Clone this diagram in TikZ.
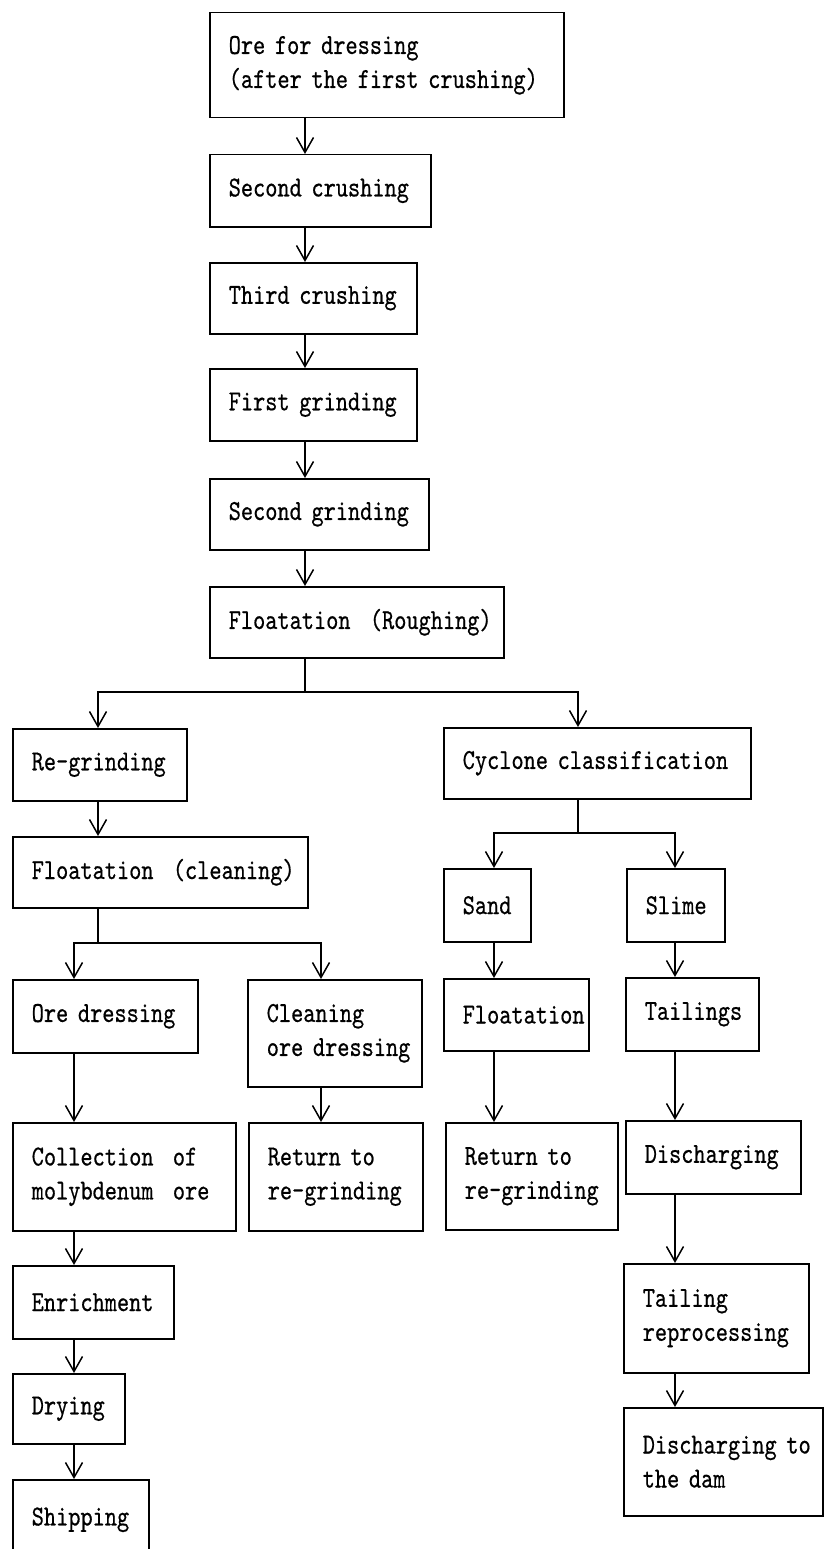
\documentclass[tikz,border=0pt]{standalone}
\usepackage{fontspec}
\usetikzlibrary{arrows.meta}
% condensed typewriter face for the box labels
\newfontfamily\boxfont{lmmono10-regular.otf}[FakeStretch=0.80,FakeBold=0.5]
\newcommand\boxstyle{\boxfont\fontsize{29pt}{34pt}\selectfont\hyphenpenalty10000\relax\exhyphenpenalty10000\relax}
\begin{document}
\begin{tikzpicture}[x=1pt,y=-1pt,
  fbox/.style={draw, line width=1.5pt, anchor=north west, inner xsep=19pt, inner ysep=0pt,
    align=left, font=\boxstyle},
  link/.style={draw, line width=1.5pt},
  arr/.style={link, -{Straight Barb[length=15pt,width=17pt]}}]
\useasboundingbox (0,0) rectangle (824,1549);
\fill[white] (0,0) rectangle (824,1549);

% column positions of the connectors
\coordinate (xm) at (305,0);
\coordinate (xl) at (98,0);
\coordinate (xo) at (74,0);
\coordinate (xc) at (321,0);
\coordinate (xs) at (494,0);
\coordinate (xr) at (675,0);
\coordinate (xcy) at (578,0);

% main line
\node[fbox, text width=316pt, minimum height=105pt] (b1) at (209,12) {Ore~for~dressing\\(after~the~first~crushing)};
\node[fbox, text width=183pt, minimum height=72pt] (b2) at (209,154) {Second~crushing};
\node[fbox, text width=169pt, minimum height=71pt] (b3) at (209,262) {Third~crushing};
\node[fbox, text width=169pt, minimum height=72pt] (b4) at (209,368) {First~grinding};
\node[fbox, text width=181pt, minimum height=71pt] (b5) at (209,478) {Second~grinding};
\node[fbox, text width=256pt, minimum height=71pt] (b6) at (209,586) {Floatation~~(Roughing)};

% concentrate branch
\node[fbox, text width=136pt, minimum height=72pt] (regrind) at (12,728) {Re-grinding};
\node[fbox, text width=257pt, minimum height=71pt] (cleanfl) at (12,836) {Floatation~~(cleaning)};
\node[fbox, text width=147pt, minimum height=73pt] (oredress) at (12,979) {Ore~dressing};
\node[fbox, text width=136pt, minimum height=107pt] (cleaning) at (247,979) {Cleaning\\ore~dressing};
\node[fbox, text width=185pt, minimum height=108pt] (collect) at (12,1122) {Collection~~of\\molybdenum~~ore};
\node[fbox, text width=136pt, minimum height=108pt] (ret1) at (248,1122) {Return~to\\re-grinding};
\node[fbox, text width=123pt, minimum height=73pt] (enrich) at (12,1265) {Enrichment};
\node[fbox, text width=74pt, minimum height=70pt] (drying) at (12,1373) {Drying};
\node[fbox, text width=98pt, minimum height=80pt] (shipping) at (12,1479) {Shipping};

% tailings branch
\node[fbox, text width=269pt, minimum height=71pt] (cyclone) at (443,727) {Cyclone~classification};
\node[fbox, text width=49pt, minimum height=73pt] (sand) at (443,868) {Sand};
\node[fbox, text width=60pt, minimum height=73pt] (slime) at (626,868) {Slime};
\node[fbox, text width=107pt, minimum height=72pt] (flo) at (443,978) {Floatation};
\node[fbox, text width=95pt, minimum height=73pt] (tailings) at (625,977) {Tailings};
\node[fbox, text width=134pt, minimum height=107pt] (ret2) at (445,1122) {Return~to\\re-grinding};
\node[fbox, text width=137pt, minimum height=73pt] (discharge) at (625,1120) {Discharging};
\node[fbox, text width=147pt, minimum height=109pt] (tailrep) at (623,1263) {Tailing\\reprocessing};
\node[fbox, text width=161pt, minimum height=108pt] (dam) at (623,1407) {Discharging~to\\the~dam};

% main line arrows
\draw[arr] (b1.south -| xm) -- (b2.north -| xm);
\draw[arr] (b2.south -| xm) -- (b3.north -| xm);
\draw[arr] (b3.south -| xm) -- (b4.north -| xm);
\draw[arr] (b4.south -| xm) -- (b5.north -| xm);
\draw[arr] (b5.south -| xm) -- (b6.north -| xm);

% split after roughing
\coordinate (j1) at (305,692);
\draw[link] (b6.south -| xm) -- (j1);
\draw[arr] (j1) -| (regrind.north -| xl);
\draw[arr] (j1) -| (cyclone.north -| xcy);

% concentrate branch arrows
\draw[arr] (regrind.south -| xl) -- (cleanfl.north -| xl);
\coordinate (j2) at (98,943);
\draw[link] (cleanfl.south -| xl) -- (j2);
\draw[arr] (j2) -| (oredress.north -| xo);
\draw[arr] (j2) -| (cleaning.north -| xc);
\draw[arr] (oredress.south -| xo) -- (collect.north -| xo);
\draw[arr] (cleaning.south -| xc) -- (ret1.north -| xc);
\draw[arr] (collect.south -| xo) -- (enrich.north -| xo);
\draw[arr] (enrich.south -| xo) -- (drying.north -| xo);
\draw[arr] (drying.south -| xo) -- (shipping.north -| xo);

% tailings branch arrows
\coordinate (j3) at (578,833);
\draw[link] (cyclone.south -| xcy) -- (j3);
\draw[arr] (j3) -| (sand.north -| xs);
\draw[arr] (j3) -| (slime.north -| xr);
\draw[arr] (sand.south -| xs) -- (flo.north -| xs);
\draw[arr] (flo.south -| xs) -- (ret2.north -| xs);
\draw[arr] (slime.south -| xr) -- (tailings.north -| xr);
\draw[arr] (tailings.south -| xr) -- (discharge.north -| xr);
\draw[arr] (discharge.south -| xr) -- (tailrep.north -| xr);
\draw[arr] (tailrep.south -| xr) -- (dam.north -| xr);
\end{tikzpicture}
\end{document}
